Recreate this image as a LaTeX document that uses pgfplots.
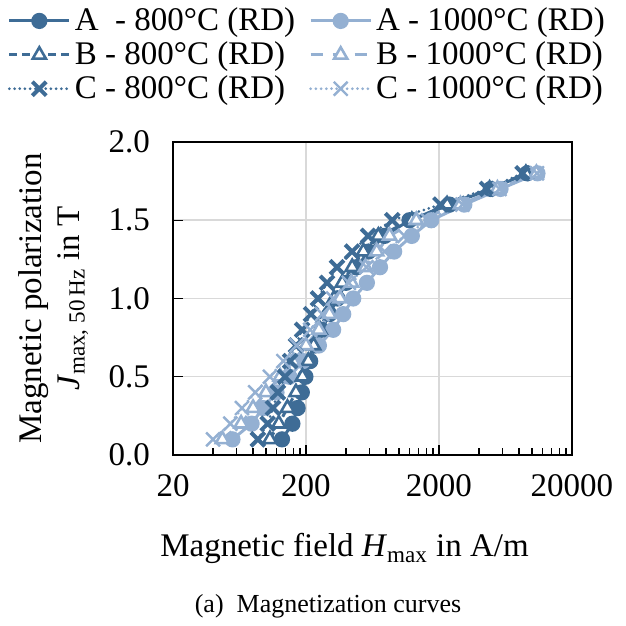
\documentclass[border=0pt]{standalone}
\usepackage{fontspec}
\setmainfont{Liberation Serif}
\usepackage{pgfplots}
\usepackage{pgfplotstable}
\pgfplotsset{compat=1.18}
\usetikzlibrary{plotmarks}

\definecolor{dark}{RGB}{62,108,150}
\definecolor{light}{RGB}{148,176,210}
\definecolor{gridgray}{RGB}{217,217,217}

% H in A/m, J in T
\pgfplotstableread{
H J
132 0.1
158 0.2
173 0.3
186 0.4
198 0.5
215 0.6
235 0.7
262 0.8
300 0.9
345 1.0
400 1.1
480 1.2
590 1.3
780 1.4
1200 1.5
2400 1.6
4900 1.7
9200 1.8
}\Aeight
\pgfplotstableread{
H J
107 0.1
125 0.2
145 0.3
168 0.4
188 0.5
208 0.6
228 0.7
255 0.8
285 0.9
325 1.0
375 1.1
445 1.2
540 1.3
700 1.4
1250 1.5
2300 1.6
4800 1.7
9000 1.8
}\Beight
\pgfplotstableread{
H J
87 0.1
103 0.2
113 0.3
123 0.4
139 0.5
152 0.6
168 0.7
187 0.8
218 0.9
246 1.0
288 1.1
342 1.2
444 1.3
586 1.4
890 1.5
2050 1.6
4600 1.7
8500 1.8
}\Ceight
\pgfplotstableread{
H J
56 0.1
78 0.2
95 0.3
120 0.4
150 0.5
190 0.6
250 0.7
320 0.8
381 0.9
453 1.0
574 1.1
720 1.2
920 1.3
1250 1.4
1750 1.5
3100 1.6
5800 1.7
11000 1.8
}\Aten
\pgfplotstableread{
H J
47 0.1
65 0.2
80 0.3
100 0.4
128 0.5
160 0.6
200 0.7
250 0.8
300 0.9
360 1.0
440 1.1
560 1.2
680 1.3
850 1.4
1350 1.5
2900 1.6
5500 1.7
10800 1.8
}\Bten
\pgfplotstableread{
H J
40 0.1
54 0.2
66 0.3
83 0.4
107 0.5
135 0.6
170 0.7
215 0.8
265 0.9
320 1.0
420 1.1
570 1.2
780 1.3
1100 1.4
1650 1.5
3000 1.6
5700 1.7
10900 1.8
}\Cten

\begin{document}
\begin{tikzpicture}
\begin{axis}[
    scale only axis,
    width=199.5pt, height=156.5pt,
    xmode=log,
    xmin=20, xmax=20000,
    ymin=0, ymax=2,
    xtick={20,200,2000,20000},
    xticklabels={20,200,2000,20000},
    minor xtick={40,60,80,100,120,140,160,180,400,600,800,1000,1200,1400,1600,1800,4000,6000,8000,10000,12000,14000,16000,18000},
    ytick={0,0.5,...,2},
    yticklabel style={/pgf/number format/.cd,fixed,fixed zerofill,precision=1,/tikz/.cd},
    /pgf/number format/assume math mode=true,
    tick align=inside,
    xtick pos=bottom, ytick pos=left,
    major tick length=5pt, minor tick length=3.5pt,
    tick style={black, line width=0.6pt},
    xmajorgrids, ymajorgrids,
    grid style={gridgray, line width=0.75pt},
    axis line style={black, line width=0.7pt},
    font=\fontsize{16.5}{19}\selectfont,
    xticklabel style={yshift=-6pt},
    yticklabel style={xshift=-8pt},
    xlabel={Magnetic field \textit{H}\textsubscript{max} in A/m},
    ylabel={Magnetic polarization\\\textit{J}\textsubscript{max, 50\,Hz} in T},
    xlabel style={at={(axis description cs:0.43,-0.30)}, anchor=center},
    ylabel style={at={(axis description cs:-0.30,0.5)}, anchor=center, align=center},
    legend columns=2,
    legend cell align=left,
    legend style={at={(axis description cs:-0.43,1.455)}, anchor=north west,
        draw=none, fill=none, font=\fontsize{16.5}{19}\selectfont,
        row sep=0pt,
        /tikz/every even column/.append style={column sep=5pt}},
    legend image code/.code={
        \draw[mark repeat=2,mark phase=2] plot coordinates {(0pt,0pt) (15pt,0pt) (30pt,0pt)};},
]
\addplot[dark, line width=1.5pt, mark=*, mark size=3.3pt, mark options={solid, fill=dark}]
    table[x=H, y=J] {\Aeight};
\addlegendentry{A\ \ - 800°C (RD)}
\addplot[light, line width=1.5pt, mark=*, mark size=3.3pt, mark options={solid, fill=light}]
    table[x=H, y=J] {\Aten};
\addlegendentry{A - 1000°C (RD)}
\addplot[dark, line width=1.5pt, dash pattern=on 4pt off 2.5pt, mark=triangle*, mark size=3.8pt,
    mark options={solid, fill=white, line width=1.3pt}]
    table[x=H, y=J] {\Beight};
\addlegendentry{B - 800°C (RD)}
\addplot[light, line width=1.5pt, dash pattern=on 6pt off 5pt, mark=triangle*, mark size=3.8pt,
    mark options={solid, fill=white, line width=1.3pt}]
    table[x=H, y=J] {\Bten};
\addlegendentry{B - 1000°C (RD)}
\addplot[dark, line width=1.5pt, line cap=round, dash pattern=on 0pt off 2.6pt, mark=x, mark size=4.9pt,
    mark options={solid, line width=2pt, line cap=butt}]
    table[x=H, y=J] {\Ceight};
\addlegendentry{C - 800°C (RD)}
\addplot[light, line width=1.5pt, line cap=round, dash pattern=on 0pt off 2.6pt, mark=x, mark size=4.9pt,
    mark options={solid, line width=1.2pt, line cap=butt}]
    table[x=H, y=J] {\Cten};
\addlegendentry{C - 1000°C (RD)}
\end{axis}
\node[font=\fontsize{13}{16}\selectfont] at (77.5pt,-75.5pt) {(a)\enspace Magnetization curves};
\pgfresetboundingbox
\useasboundingbox (-86.5pt,-85.5pt) rectangle (226.5pt,227.5pt);
\end{tikzpicture}
\end{document}
